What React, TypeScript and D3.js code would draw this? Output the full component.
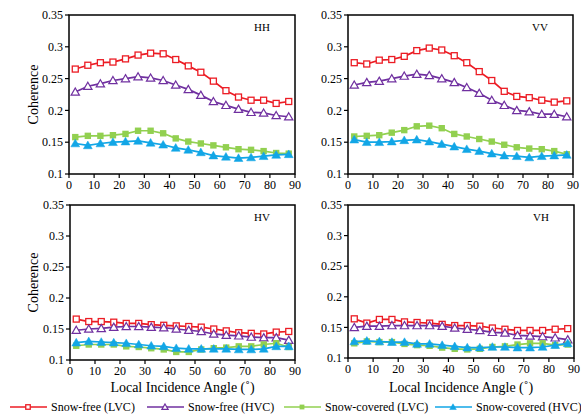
import React from "react";
import * as d3 from "d3";

// local incidence angle bins (deg)
const angles = [2.5, 7.5, 12.5, 17.5, 22.5, 27.5, 32.5, 37.5, 42.5, 47.5, 52.5, 57.5, 62.5, 67.5, 72.5, 77.5, 82.5, 87.5];

const seriesNames = ["Snow-free (LVC)", "Snow-free (HVC)", "Snow-covered (LVC)", "Snow-covered (HVC)"];

const hhFreeLVC = [0.265, 0.271, 0.275, 0.276, 0.281, 0.287, 0.290, 0.289, 0.280, 0.270, 0.260, 0.246, 0.231, 0.221, 0.216, 0.216, 0.211, 0.214];
const hhFreeHVC = [0.229, 0.238, 0.242, 0.247, 0.250, 0.253, 0.251, 0.247, 0.240, 0.233, 0.224, 0.214, 0.208, 0.202, 0.197, 0.196, 0.192, 0.190];
const hhCovLVC = [0.158, 0.160, 0.160, 0.161, 0.163, 0.168, 0.168, 0.164, 0.156, 0.151, 0.148, 0.145, 0.142, 0.139, 0.138, 0.136, 0.133, 0.132];
const hhCovHVC = [0.148, 0.145, 0.148, 0.150, 0.151, 0.152, 0.149, 0.146, 0.141, 0.138, 0.134, 0.129, 0.127, 0.125, 0.126, 0.128, 0.130, 0.131];

const vvFreeLVC = [0.275, 0.273, 0.279, 0.280, 0.285, 0.294, 0.298, 0.295, 0.286, 0.275, 0.261, 0.247, 0.230, 0.222, 0.220, 0.216, 0.213, 0.215];
const vvFreeHVC = [0.240, 0.244, 0.246, 0.250, 0.254, 0.257, 0.255, 0.250, 0.244, 0.236, 0.227, 0.216, 0.208, 0.200, 0.198, 0.194, 0.194, 0.190];
const vvCovLVC = [0.159, 0.160, 0.161, 0.165, 0.169, 0.175, 0.176, 0.172, 0.163, 0.159, 0.155, 0.151, 0.146, 0.142, 0.140, 0.139, 0.136, 0.131];
const vvCovHVC = [0.154, 0.150, 0.150, 0.151, 0.153, 0.154, 0.151, 0.147, 0.143, 0.139, 0.136, 0.132, 0.129, 0.128, 0.126, 0.128, 0.129, 0.130];

const hvFreeLVC = [0.166, 0.162, 0.162, 0.161, 0.159, 0.159, 0.157, 0.156, 0.155, 0.154, 0.153, 0.150, 0.147, 0.144, 0.143, 0.142, 0.145, 0.146];
const hvFreeHVC = [0.148, 0.150, 0.151, 0.153, 0.154, 0.154, 0.153, 0.152, 0.150, 0.148, 0.146, 0.142, 0.140, 0.139, 0.137, 0.136, 0.136, 0.132];
const hvCovLVC = [0.123, 0.125, 0.125, 0.125, 0.122, 0.121, 0.119, 0.117, 0.113, 0.113, 0.117, 0.119, 0.120, 0.122, 0.122, 0.125, 0.127, 0.121];
const hvCovHVC = [0.128, 0.130, 0.129, 0.128, 0.127, 0.125, 0.123, 0.122, 0.119, 0.118, 0.118, 0.118, 0.118, 0.117, 0.117, 0.118, 0.122, 0.122];

const vhFreeLVC = [0.164, 0.157, 0.163, 0.163, 0.159, 0.158, 0.157, 0.155, 0.153, 0.153, 0.152, 0.149, 0.147, 0.145, 0.145, 0.145, 0.147, 0.148];
const vhFreeHVC = [0.150, 0.152, 0.152, 0.153, 0.153, 0.153, 0.153, 0.152, 0.149, 0.147, 0.145, 0.142, 0.141, 0.137, 0.136, 0.135, 0.133, 0.130];
const vhCovLVC = [0.124, 0.127, 0.126, 0.126, 0.123, 0.121, 0.120, 0.117, 0.115, 0.114, 0.115, 0.118, 0.119, 0.122, 0.124, 0.124, 0.121, 0.122];
const vhCovHVC = [0.127, 0.128, 0.127, 0.126, 0.126, 0.123, 0.123, 0.121, 0.119, 0.117, 0.117, 0.118, 0.118, 0.117, 0.117, 0.118, 0.121, 0.124];

const xTicks = [0, 10, 20, 30, 40, 50, 60, 70, 80, 90];
const yTicks = [0.1, 0.15, 0.2, 0.25, 0.3, 0.35];
const yTickLabels = ["0.1", "0.15", "0.2", "0.25", "0.3", "0.35"];

const colors = ["#ec1c24", "#7030a0", "#92d050", "#12a6e6"];
const FONT = "'Liberation Serif', 'Times New Roman', serif";

const panels = [
  { name: "HH", box: [69, 15, 295, 174], yTitle: true, xTitle: false, data: [hhFreeLVC, hhFreeHVC, hhCovLVC, hhCovHVC] },
  { name: "VV", box: [348, 15, 573, 174], yTitle: false, xTitle: false, data: [vvFreeLVC, vvFreeHVC, vvCovLVC, vvCovHVC] },
  { name: "HV", box: [70, 205, 295, 360], yTitle: true, xTitle: true, data: [hvFreeLVC, hvFreeHVC, hvCovLVC, hvCovHVC] },
  { name: "VH", box: [348, 205, 574, 358], yTitle: false, xTitle: true, data: [vhFreeLVC, vhFreeHVC, vhCovLVC, vhCovHVC] },
];

function Marker({ i, x, y, s = 1 }: { i: number; x: number; y: number; s?: number }) {
  const c = colors[i];
  if (i === 0)
    return <rect x={x - 3 * s} y={y - 3 * s} width={6 * s} height={6 * s} fill="#fff" stroke={c} strokeWidth={1.3} />;
  if (i === 2) return <rect x={x - 3.2 * s} y={y - 3.2 * s} width={6.4 * s} height={6.4 * s} fill={c} />;
  const tri = d3.symbol(d3.symbolTriangle, (i === 1 ? 30 : 34) * s * s)()!;
  return (
    <path
      d={tri}
      transform={`translate(${x},${y + 0.8 * s})`}
      fill={i === 1 ? "#fff" : c}
      stroke={c}
      strokeWidth={i === 1 ? 1.2 : 0.5}
    />
  );
}

function Panel({ p }: { p: (typeof panels)[number] }) {
  const [x0, y0, x1, y1] = p.box;
  const x = d3.scaleLinear().domain([0, 90]).range([x0, x1]);
  const y = d3.scaleLinear().domain([0.1, 0.35]).range([y1, y0]);
  const line = d3
    .line<number>()
    .x((_, k) => x(angles[k]))
    .y((v) => y(v));
  return (
    <g>
      {p.data.map((vals, i) => (
        <g key={i}>
          <path d={line(vals)!} fill="none" stroke={colors[i]} strokeWidth={1.7} />
          {vals.map((v, k) => (
            <Marker key={k} i={i} x={x(angles[k])} y={y(v)} />
          ))}
        </g>
      ))}
      <rect x={x0} y={y0} width={x1 - x0} height={y1 - y0} fill="none" stroke="#000" strokeWidth={1.5} />
      {yTicks.map((t, k) => (
        <g key={t}>
          <line x1={x0 - 4} x2={x0} y1={y(t)} y2={y(t)} stroke="#000" strokeWidth={1.2} />
          <text x={x0 - 6} y={y(t)} dy="0.35em" textAnchor="end" fontSize={12} fontFamily={FONT}>
            {yTickLabels[k]}
          </text>
        </g>
      ))}
      {xTicks.map((t) => (
        <g key={t}>
          <line x1={x(t)} x2={x(t)} y1={y1} y2={y1 + 4} stroke="#000" strokeWidth={1.2} />
          <text x={x(t)} y={y1 + 15} textAnchor="middle" fontSize={12} fontFamily={FONT}>
            {t}
          </text>
        </g>
      ))}
      <text x={x1 - 33} y={y0 + 16} textAnchor="middle" fontSize={11} fontFamily={FONT}>
        {p.name}
      </text>
      {p.yTitle && (
        <text
          transform={`translate(38,${(y0 + y1) / 2}) rotate(-90)`}
          textAnchor="middle"
          fontSize={14}
          fontFamily={FONT}
        >
          Coherence
        </text>
      )}
      {p.xTitle && (
        <text x={(x0 + x1) / 2} y={392} textAnchor="middle" fontSize={14} fontFamily={FONT}>
          Local Incidence Angle (˚)
        </text>
      )}
    </g>
  );
}

const legendX = [10, 147, 284, 435];

export default function App() {
  return (
    <svg width={581} height={415} style={{ position: "absolute", left: 0, top: 0, background: "#fff" }}>
      {panels.map((p) => (
        <Panel key={p.name} p={p} />
      ))}
      {seriesNames.map((s, i) => (
        <g key={s}>
          <line x1={legendX[i]} x2={legendX[i] + 37} y1={407} y2={407} stroke={colors[i]} strokeWidth={1.7} />
          <Marker i={i} x={legendX[i] + 18} y={407} s={0.75} />
          <text x={legendX[i] + 41} y={407} dy="0.35em" fontSize={12} fontFamily={FONT}>
            {s}
          </text>
        </g>
      ))}
    </svg>
  );
}
